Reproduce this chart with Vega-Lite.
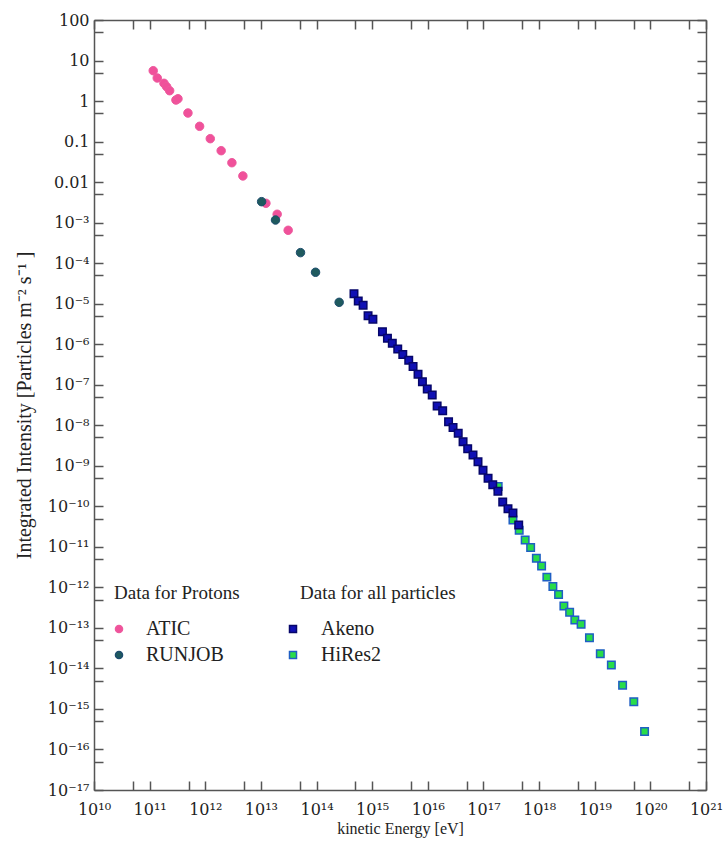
{
  "$schema": "https://vega.github.io/schema/vega-lite/v6.json",
  "width": 612,
  "height": 770,
  "autosize": {"type": "none"},
  "padding": {"left": 94, "top": 20, "right": 17, "bottom": 53},
  "background": "white",
  "datasets": {
    "protons": [
      {"series": "ATIC", "E": 1.16e11, "I": 5.61},
      {"series": "ATIC", "E": 1.37e11, "I": 3.71},
      {"series": "ATIC", "E": 1.81e11, "I": 2.74},
      {"series": "ATIC", "E": 2.02e11, "I": 2.26},
      {"series": "ATIC", "E": 2.29e11, "I": 1.80},
      {"series": "ATIC", "E": 2.97e11, "I": 1.06},
      {"series": "ATIC", "E": 3.23e11, "I": 1.14},
      {"series": "ATIC", "E": 4.88e11, "I": 0.507},
      {"series": "ATIC", "E": 7.91e11, "I": 0.238},
      {"series": "ATIC", "E": 1.23e12, "I": 0.118},
      {"series": "ATIC", "E": 1.93e12, "I": 0.0596},
      {"series": "ATIC", "E": 3.01e12, "I": 0.0301},
      {"series": "ATIC", "E": 4.74e12, "I": 0.0142},
      {"series": "ATIC", "E": 1.23e13, "I": 0.0030},
      {"series": "ATIC", "E": 1.96e13, "I": 0.00161},
      {"series": "ATIC", "E": 3.09e13, "I": 0.000647},
      {"series": "RUNJOB", "E": 1.03e13, "I": 0.00329},
      {"series": "RUNJOB", "E": 1.83e13, "I": 0.00116},
      {"series": "RUNJOB", "E": 5.15e13, "I": 0.000182},
      {"series": "RUNJOB", "E": 9.59e13, "I": 5.96e-5},
      {"series": "RUNJOB", "E": 2.55e14, "I": 1.08e-5}
    ],
    "all": [
      {"series": "HiRes2", "E": 1.84e17, "I": 3.09e-10},
      {"series": "HiRes2", "E": 3.39e17, "I": 4.60e-11},
      {"series": "HiRes2", "E": 4.39e17, "I": 2.56e-11},
      {"series": "HiRes2", "E": 5.62e17, "I": 1.48e-11},
      {"series": "HiRes2", "E": 7.05e17, "I": 9.66e-12},
      {"series": "HiRes2", "E": 8.93e17, "I": 5.22e-12},
      {"series": "HiRes2", "E": 1.11e18, "I": 3.37e-12},
      {"series": "HiRes2", "E": 1.38e18, "I": 1.79e-12},
      {"series": "HiRes2", "E": 1.77e18, "I": 1.05e-12},
      {"series": "HiRes2", "E": 2.24e18, "I": 6.68e-13},
      {"series": "HiRes2", "E": 2.79e18, "I": 3.48e-13},
      {"series": "HiRes2", "E": 3.54e18, "I": 2.44e-13},
      {"series": "HiRes2", "E": 4.39e18, "I": 1.57e-13},
      {"series": "HiRes2", "E": 5.69e18, "I": 1.23e-13},
      {"series": "HiRes2", "E": 8.04e18, "I": 5.74e-14},
      {"series": "HiRes2", "E": 1.26e19, "I": 2.31e-14},
      {"series": "HiRes2", "E": 1.99e19, "I": 1.22e-14},
      {"series": "HiRes2", "E": 3.17e19, "I": 3.85e-15},
      {"series": "HiRes2", "E": 5.04e19, "I": 1.51e-15},
      {"series": "HiRes2", "E": 7.87e19, "I": 2.79e-16},
      {"series": "Akeno", "E": 4.71e14, "I": 1.76e-5},
      {"series": "Akeno", "E": 5.62e14, "I": 1.17e-5},
      {"series": "Akeno", "E": 6.87e14, "I": 9.18e-6},
      {"series": "Akeno", "E": 8.43e14, "I": 5.04e-6},
      {"series": "Akeno", "E": 1.03e15, "I": 4.15e-6},
      {"series": "Akeno", "E": 1.53e15, "I": 2.04e-6},
      {"series": "Akeno", "E": 1.88e15, "I": 1.40e-6},
      {"series": "Akeno", "E": 2.30e15, "I": 1.05e-6},
      {"series": "Akeno", "E": 2.88e15, "I": 7.64e-7},
      {"series": "Akeno", "E": 3.55e15, "I": 5.58e-7},
      {"series": "Akeno", "E": 4.54e15, "I": 4.02e-7},
      {"series": "Akeno", "E": 5.43e15, "I": 2.82e-7},
      {"series": "Akeno", "E": 6.67e15, "I": 1.82e-7},
      {"series": "Akeno", "E": 8.00e15, "I": 1.19e-7},
      {"series": "Akeno", "E": 9.77e15, "I": 7.87e-8},
      {"series": "Akeno", "E": 1.20e16, "I": 5.60e-8},
      {"series": "Akeno", "E": 1.47e16, "I": 2.99e-8},
      {"series": "Akeno", "E": 1.85e16, "I": 2.28e-8},
      {"series": "Akeno", "E": 2.36e16, "I": 1.22e-8},
      {"series": "Akeno", "E": 2.84e16, "I": 8.83e-9},
      {"series": "Akeno", "E": 3.52e16, "I": 6.35e-9},
      {"series": "Akeno", "E": 4.30e16, "I": 3.94e-9},
      {"series": "Akeno", "E": 5.21e16, "I": 2.65e-9},
      {"series": "Akeno", "E": 6.49e16, "I": 1.85e-9},
      {"series": "Akeno", "E": 7.98e16, "I": 1.26e-9},
      {"series": "Akeno", "E": 9.82e16, "I": 7.76e-10},
      {"series": "Akeno", "E": 1.21e17, "I": 4.92e-10},
      {"series": "Akeno", "E": 1.47e17, "I": 3.42e-10},
      {"series": "Akeno", "E": 1.82e17, "I": 2.36e-10},
      {"series": "Akeno", "E": 2.22e17, "I": 1.27e-10},
      {"series": "Akeno", "E": 2.76e17, "I": 8.71e-11},
      {"series": "Akeno", "E": 3.39e17, "I": 6.85e-11},
      {"series": "Akeno", "E": 4.30e17, "I": 3.47e-11}
    ]
  },
  "layer": [
    {
      "data": {"name": "protons"},
      "mark": {"type": "point", "shape": "circle", "filled": true, "size": 72, "strokeWidth": 1, "opacity": 1},
      "encoding": {
        "x": {
          "field": "E", "type": "quantitative",
          "scale": {"type": "log", "domain": [1e10, 1e21], "nice": false},
          "axis": {
            "orient": "bottom",
            "values": [1e10,5e10,1e11,5e11,1e12,5e12,1e13,5e13,1e14,5e14,1e15,5e15,1e16,5e16,1e17,5e17,1e18,5e18,1e19,5e19,1e20,5e20,1e21],
            "labelExpr": "abs(log(datum.value)/LN10 - round(log(datum.value)/LN10)) < 0.1 ? ['10¹⁰','10¹¹','10¹²','10¹³','10¹⁴','10¹⁵','10¹⁶','10¹⁷','10¹⁸','10¹⁹','10²⁰','10²¹'][round(log(datum.value)/LN10) - 10] : ''",
            "labelOverlap": false,
            "labelFlush": false,
            "tickSize": -9,
            "labelPadding": 20,
            "grid": false,
            "title": "kinetic Energy [eV]",
            "titleFontSize": 16,
            "titlePadding": 3,
            "encode": {"ticks": {"update": {"y2": {"signal": "abs(log(datum.value)/LN10 - round(log(datum.value)/LN10)) < 0.1 ? -9 : -5"}}}}
          }
        },
        "y": {
          "field": "I", "type": "quantitative",
          "scale": {"type": "log", "domain": [1e-17, 100], "nice": false},
          "axis": {
            "orient": "left",
            "values": [1e-17,5e-17,1e-16,5e-16,1e-15,5e-15,1e-14,5e-14,1e-13,5e-13,1e-12,5e-12,1e-11,5e-11,1e-10,5e-10,1e-9,5e-9,1e-8,5e-8,1e-7,5e-7,1e-6,5e-6,1e-5,5e-5,1e-4,5e-4,1e-3,5e-3,0.01,0.05,0.1,0.5,1,5,10,50,100],
            "labelExpr": "abs(log(datum.value)/LN10 - round(log(datum.value)/LN10)) < 0.1 ? ['100','10','1','0.1','0.01','10⁻³','10⁻⁴','10⁻⁵','10⁻⁶','10⁻⁷','10⁻⁸','10⁻⁹','10⁻¹⁰','10⁻¹¹','10⁻¹²','10⁻¹³','10⁻¹⁴','10⁻¹⁵','10⁻¹⁶','10⁻¹⁷'][2 - round(log(datum.value)/LN10)] : ''",
            "labelOverlap": false,
            "labelFlush": false,
            "tickSize": -9,
            "labelPadding": 14,
            "grid": false,
            "title": "Integrated Intensity [Particles m⁻² s⁻¹ ]",
            "titleFontSize": 20,
            "titlePadding": 13,
            "encode": {"ticks": {"update": {"x2": {"signal": "abs(log(datum.value)/LN10 - round(log(datum.value)/LN10)) < 0.1 ? 9 : 5"}}}}
          }
        },
        "fill": {
          "field": "series", "type": "nominal",
          "scale": {"domain": ["ATIC", "RUNJOB"], "range": ["#f0519a", "#1f5a5e"]},
          "legend": {"title": "Data for Protons", "orient": "none", "legendX": 20, "legendY": 564, "symbolSize": 50, "symbolOffset": -5, "labelOffset": 17, "titlePadding": 16, "rowPadding": 6}
        },
        "stroke": {
          "field": "series", "type": "nominal",
          "scale": {"domain": ["ATIC", "RUNJOB"], "range": ["#ee5a9e", "#1d4d6e"]},
          "legend": {"title": "Data for Protons", "orient": "none", "legendX": 20, "legendY": 564, "symbolSize": 50, "symbolOffset": -5, "labelOffset": 17, "titlePadding": 16, "rowPadding": 6}
        }
      }
    },
    {
      "data": {"name": "all"},
      "mark": {"type": "point", "shape": "square", "filled": true, "size": 56, "strokeWidth": 1.5, "opacity": 1},
      "encoding": {
        "x": {
          "field": "E", "type": "quantitative",
          "scale": {"type": "log", "domain": [1e10, 1e21], "nice": false},
          "axis": {
            "orient": "top",
            "values": [1e10,5e10,1e11,5e11,1e12,5e12,1e13,5e13,1e14,5e14,1e15,5e15,1e16,5e16,1e17,5e17,1e18,5e18,1e19,5e19,1e20,5e20,1e21],
            "labels": false,
            "tickSize": -9,
            "grid": false,
            "title": null,
            "encode": {"ticks": {"update": {"y2": {"signal": "abs(log(datum.value)/LN10 - round(log(datum.value)/LN10)) < 0.1 ? 9 : 5"}}}}
          }
        },
        "y": {
          "field": "I", "type": "quantitative",
          "scale": {"type": "log", "domain": [1e-17, 100], "nice": false},
          "axis": {
            "orient": "right",
            "values": [1e-17,5e-17,1e-16,5e-16,1e-15,5e-15,1e-14,5e-14,1e-13,5e-13,1e-12,5e-12,1e-11,5e-11,1e-10,5e-10,1e-9,5e-9,1e-8,5e-8,1e-7,5e-7,1e-6,5e-6,1e-5,5e-5,1e-4,5e-4,1e-3,5e-3,0.01,0.05,0.1,0.5,1,5,10,50,100],
            "labels": false,
            "tickSize": -9,
            "grid": false,
            "title": null,
            "encode": {"ticks": {"update": {"x2": {"signal": "abs(log(datum.value)/LN10 - round(log(datum.value)/LN10)) < 0.1 ? -9 : -5"}}}}
          }
        },
        "fill": {
          "field": "series", "type": "nominal",
          "scale": {"domain": ["Akeno", "HiRes2"], "range": ["#1010b4", "#28dc48"]},
          "legend": {"title": "Data for all particles", "orient": "none", "legendX": 206, "legendY": 564, "symbolSize": 49, "symbolOffset": -17, "labelOffset": 18, "titlePadding": 16, "rowPadding": 6}
        },
        "stroke": {
          "field": "series", "type": "nominal",
          "scale": {"domain": ["Akeno", "HiRes2"], "range": ["#06066a", "#1f5fc4"]},
          "legend": {"title": "Data for all particles", "orient": "none", "legendX": 206, "legendY": 564, "symbolSize": 49, "symbolOffset": -17, "labelOffset": 18, "titlePadding": 16, "rowPadding": 6}
        }
      }
    }
  ],
  "resolve": {
    "scale": {"fill": "independent", "stroke": "independent"},
    "axis": {"x": "independent", "y": "independent"}
  },
  "config": {
    "view": {"stroke": null},
    "font": "Liberation Serif",
    "axis": {
      "domainColor": "#555555",
      "domainWidth": 1.5,
      "tickColor": "#555555",
      "tickWidth": 1.5,
      "labelFont": "DejaVu Serif",
      "labelFontSize": 16,
      "labelColor": "#222222",
      "titleFont": "Liberation Serif",
      "titleFontWeight": "normal",
      "titleColor": "#222222"
    },
    "legend": {
      "titleFont": "Liberation Serif",
      "titleFontSize": 19,
      "titleFontWeight": "normal",
      "titleColor": "#222222",
      "labelFont": "Liberation Serif",
      "labelFontSize": 20,
      "labelColor": "#222222",
      "padding": 0
    }
  }
}
